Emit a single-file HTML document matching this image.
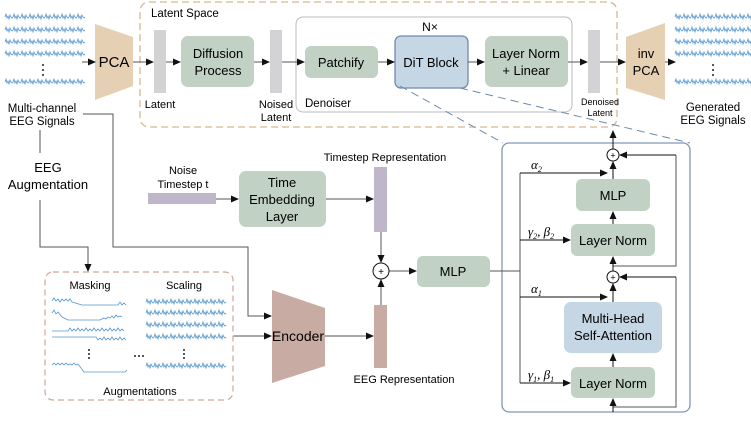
<!DOCTYPE html>
<html><head><meta charset="utf-8"><style>
html,body{margin:0;padding:0;background:#fff}
svg{display:block;font-family:"Liberation Sans",Arial,sans-serif}
</style></head><body>
<svg width="751" height="422" viewBox="0 0 751 422" xmlns="http://www.w3.org/2000/svg">
<defs>
<marker id="a" markerWidth="8" markerHeight="8" refX="7" refY="4" orient="auto" markerUnits="userSpaceOnUse"><path d="M0,0.5 L8,4 L0,7.5z" fill="#111"/></marker>
<path id="w" d="m0,0 l1,-3 l1,4 l1,-2 l1,3 l1,-4 l1,2 l1,1 l1,-1 l1,-3 l1,4 l1,-2 l1,3 l1,-4 l1,2 l1,1 l1,-1 l1,-3 l1,4 l1,-2 l1,3 l1,-4 l1,2 l1,1 l1,-1 l1,-3 l1,4 l1,-2 l1,3 l1,-4 l1,2 l1,1 l1,-1 l1,-3 l1,4 l1,-2 l1,3 l1,-4 l1,2 l1,1 l1,-1 l1,-3 l1,4 l1,-2 l1,3 l1,-4 l1,2 l1,1 l1,-1 l1,-3 l1,4 l1,-2 l1,3 l1,-4 l1,2 l1,1 l1,-1 l1,-3 l1,4 l1,-2 l1,3 l1,-4 l1,2 l1,1 l1,-1 l1,-3 l1,4 l1,-2 l1,3 l1,-4 l1,2 l1,1 l1,-1 l1,-3 l1,4 l1,-2 l1,3 l1,-4 l1,2 l1,1 l1,-1" fill="none" stroke="#5596cc" stroke-width="0.8"/>
</defs>
<g fill="none" stroke="#555" stroke-width="1">
<!-- waves top-left -->
</g>
<use href="#w" x="5" y="17"/><use href="#w" x="5" y="30"/><use href="#w" x="5" y="42"/><use href="#w" x="5" y="54"/><use href="#w" x="5" y="82"/>
<use href="#w" x="675" y="17"/><use href="#w" x="675" y="30"/><use href="#w" x="675" y="42"/><use href="#w" x="675" y="54"/><use href="#w" x="675" y="82"/>
<g fill="#222"><circle cx="43" cy="65" r="1"/><circle cx="43" cy="70" r="1"/><circle cx="43" cy="75" r="1"/><circle cx="713" cy="65" r="1"/><circle cx="713" cy="70" r="1"/><circle cx="713" cy="75" r="1"/></g>

<!-- Latent space -->
<rect x="140" y="2" width="477" height="125" rx="9" fill="none" stroke="#d6b88c" stroke-width="1.3" stroke-dasharray="7,4"/>
<text x="151" y="17" font-size="11.5">Latent Space</text>
<rect x="296" y="17" width="276" height="95" rx="7" fill="none" stroke="#bbb" stroke-width="1"/>
<text x="305" y="107" font-size="11.5">Denoiser</text>
<polygon points="95,24 133,37 133,86 95,100" fill="#e5d0b3"/>
<text x="114" y="67" font-size="15" text-anchor="middle">PCA</text>
<rect x="154" y="30" width="12" height="63" fill="#d3d3d6"/>
<text x="160" y="108" font-size="11" text-anchor="middle">Latent</text>
<rect x="181" y="36" width="73" height="51" rx="7" fill="#c1d1c4"/>
<text x="218" y="58" font-size="13" text-anchor="middle">Diffusion</text>
<text x="218" y="75" font-size="13" text-anchor="middle">Process</text>
<rect x="270" y="30" width="12" height="63" fill="#d3d3d6"/>
<text x="276" y="108" font-size="11" text-anchor="middle">Noised</text>
<text x="276" y="121" font-size="11" text-anchor="middle">Latent</text>
<rect x="305" y="46" width="73" height="32" rx="6" fill="#c1d1c4"/>
<text x="341" y="67" font-size="13" text-anchor="middle">Patchify</text>
<text x="430" y="31" font-size="12" text-anchor="middle">N×</text>
<rect x="395" y="36" width="73" height="52" rx="6" fill="#c5d6e4" stroke="#6f8bad" stroke-width="1.3"/>
<text x="431" y="67" font-size="13" text-anchor="middle">DiT Block</text>
<rect x="485" y="36" width="83" height="51" rx="7" fill="#c1d1c4"/>
<text x="526" y="58" font-size="13" text-anchor="middle">Layer Norm</text>
<text x="526" y="75" font-size="13" text-anchor="middle">+ Linear</text>
<rect x="588" y="30" width="12" height="63" fill="#d3d3d6"/>
<text x="600" y="105" font-size="9" text-anchor="middle">Denoised</text>
<text x="600" y="116" font-size="9" text-anchor="middle">Latent</text>
<polygon points="626,37 665,23 665,100 626,88" fill="#e5d0b3"/>
<text x="646" y="58" font-size="13" text-anchor="middle">inv</text>
<text x="646" y="75" font-size="13" text-anchor="middle">PCA</text>
<text x="713" y="111" font-size="11.5" text-anchor="middle">Generated</text>
<text x="713" y="124" font-size="11.5" text-anchor="middle">EEG Signals</text>
<text x="42" y="112" font-size="11.5" text-anchor="middle">Multi-channel</text>
<text x="42" y="125" font-size="11.5" text-anchor="middle">EEG Signals</text>
<text x="48" y="172" font-size="13" text-anchor="middle">EEG</text>
<text x="48" y="189" font-size="13" text-anchor="middle">Augmentation</text>

<g fill="none" stroke="#555" stroke-width="1" marker-end="url(#a)">
<path d="M82,62 H95"/><path d="M133,62 H153"/><path d="M166,62 H180"/><path d="M254,62 H269"/><path d="M282,62 H304"/>
<path d="M378,62 H394"/><path d="M468,62 H484"/><path d="M568,62 H587"/><path d="M600,62 H625"/><path d="M665,62 H675"/>
<path d="M83,114 H113 V247 H248 V316 H271"/>
<path d="M40,200 V247 H88 V271"/>
<path d="M233,336 H271"/><path d="M325,336 H373"/>
<path d="M216,199 H238"/><path d="M326,199 H373"/>
<path d="M381,232 V262"/><path d="M381,305 V280"/><path d="M389,271 H416"/>
</g>
<path d="M40,130 V153" stroke="#555" fill="none"/>

<!-- Augmentations -->
<rect x="45" y="272" width="188" height="128" rx="8" fill="none" stroke="#d3a49c" stroke-width="1.2" stroke-dasharray="6,4"/>
<text x="90" y="289" font-size="11" text-anchor="middle">Masking</text>
<text x="184" y="289" font-size="11" text-anchor="middle">Scaling</text>
<g fill="none" stroke="#5596cc" stroke-width="0.8">
<path d="M52,301 l2,-3 l2,3 l2,-2 l2,3 l2,-3 l2,2 l2,-2 l2,2 l2,-2 l2,3 L82,305 H118 l2,-3 l2,3 l2,-2 l2,2"/>
<path d="M52,313 l2,-3 l2,4 l2,-2 l4,5 L68,320 H100 l4,-2 l2,1 l2,-2 l2,1 l2,-2 l2,2 l2,-3 l2,2 l2,-1 l2,1"/>
<path d="M52,331 H68 l2,-3 l2,3 l2,-2 l2,2 l2,-3 l2,3 l2,-2 l2,2 l2,-3 l2,3 l2,-2 l2,2 l2,-3 l2,3 l2,-2 l2,2 l2,-3 l2,3 l2,-2 l2,2 l2,-3 l2,3 l2,-2 l2,2 l2,-3 l2,3 l2,-2 l2,2"/>
<path d="M52,337 H96 l2,3 l2,-2 l2,2 l2,-3 l2,3 l2,-2 l2,2 l2,-3 l2,3 l2,-2 l2,2 l2,-3 l2,3 l2,-2 l2,2"/>
<path d="M52,365 l2,-2 l2,2 l2,-2 l2,2 l2,-2 l2,2 l2,-2 l2,2 l2,-1 l2,1 l2,-2 l2,2 l2,-1 L84,372 H125 l2,-2"/>
</g>
<use href="#w" x="146" y="302" transform="scale(1)"/>
<use href="#w" x="146" y="313"/><use href="#w" x="146" y="325"/><use href="#w" x="146" y="337"/><use href="#w" x="146" y="366"/>
<g fill="#222"><circle cx="89" cy="350" r="1"/><circle cx="89" cy="354" r="1"/><circle cx="89" cy="358" r="1"/><circle cx="184" cy="350" r="1"/><circle cx="184" cy="354" r="1"/><circle cx="184" cy="358" r="1"/><circle cx="135" cy="356" r="1"/><circle cx="139" cy="356" r="1"/><circle cx="143" cy="356" r="1"/></g>
<text x="140" y="395" font-size="11" text-anchor="middle">Augmentations</text>

<polygon points="272,290 325,308 325,366 272,383" fill="#c8aba2"/>
<text x="298" y="341" font-size="14" text-anchor="middle">Encoder</text>
<rect x="374" y="305" width="13" height="63" fill="#c8aba2"/>
<text x="404" y="383" font-size="11" text-anchor="middle">EEG Representation</text>
<rect x="374" y="167" width="13" height="65" fill="#bfb6c9"/>
<text x="385" y="161" font-size="11" text-anchor="middle">Timestep Representation</text>
<text x="183" y="174" font-size="11" text-anchor="middle">Noise</text>
<text x="183" y="188" font-size="11" text-anchor="middle">Timestep t</text>
<rect x="148" y="193" width="68" height="11" fill="#bfb6c9"/>
<rect x="239" y="171" width="87" height="56" rx="7" fill="#c1d1c4"/>
<text x="282" y="187" font-size="13" text-anchor="middle">Time</text>
<text x="282" y="204" font-size="13" text-anchor="middle">Embedding</text>
<text x="282" y="221" font-size="13" text-anchor="middle">Layer</text>
<circle cx="381" cy="271" r="8" fill="#fff" stroke="#111"/>
<text x="381" y="275" font-size="10" text-anchor="middle">+</text>
<rect x="417" y="256" width="73" height="31" rx="6" fill="#c1d1c4"/>
<text x="453" y="276" font-size="13" text-anchor="middle">MLP</text>

<!-- DiT detail -->
<path d="M400,86 L503,143 M460,88 L690,143" stroke="#6f8bad" stroke-width="1" stroke-dasharray="8,5" fill="none"/>
<rect x="502" y="143" width="188" height="269" rx="7" fill="#fff" stroke="#7f97b8" stroke-width="1.3"/>
<rect x="576" y="179" width="74" height="32" rx="6" fill="#c1d1c4"/>
<text x="613" y="200" font-size="13" text-anchor="middle">MLP</text>
<rect x="571" y="224" width="84" height="32" rx="6" fill="#c1d1c4"/>
<text x="613" y="245" font-size="13" text-anchor="middle">Layer Norm</text>
<rect x="564" y="302" width="98" height="51" rx="7" fill="#c5d6e4"/>
<text x="613" y="323" font-size="13" text-anchor="middle">Multi-Head</text>
<text x="613" y="340" font-size="13" text-anchor="middle">Self-Attention</text>
<rect x="571" y="367" width="84" height="31" rx="6" fill="#c1d1c4"/>
<text x="613" y="388" font-size="13" text-anchor="middle">Layer Norm</text>
<g fill="none" stroke="#555" stroke-width="1">
<path d="M490,271 H520"/><path d="M520,173 V383"/><path d="M613,266 H676 V155"/><path d="M613,407 H676 V277"/>
</g>
<g fill="none" stroke="#111" stroke-width="1" marker-end="url(#a)">
<path d="M520,173 H607"/><path d="M520,240 H570"/><path d="M520,297 H607"/><path d="M520,383 H570"/>
<path d="M676,155 H620"/><path d="M676,277 H620"/>
<path d="M613,179 V162"/><path d="M613,224 V212"/><path d="M613,271 V257"/><path d="M613,302 V284"/><path d="M613,367 V354"/><path d="M613,412 V399"/><path d="M613,149 V131"/>
</g>
<circle cx="613" cy="155" r="6" fill="#fff" stroke="#111"/><text x="613" y="158.5" font-size="9" text-anchor="middle">+</text>
<circle cx="613" cy="277" r="6" fill="#fff" stroke="#111"/><text x="613" y="280.5" font-size="9" text-anchor="middle">+</text>
<g font-family="'Liberation Serif',serif" font-style="italic" font-size="13">
<text x="531" y="169">α<tspan font-size="8" dy="3">2</tspan></text>
<text x="528" y="236">γ<tspan font-size="8" dy="3">2</tspan><tspan dy="-3">, β</tspan><tspan font-size="8" dy="3">2</tspan></text>
<text x="531" y="293">α<tspan font-size="8" dy="3">1</tspan></text>
<text x="528" y="379">γ<tspan font-size="8" dy="3">1</tspan><tspan dy="-3">, β</tspan><tspan font-size="8" dy="3">1</tspan></text>
</g>
</svg>
</body></html>
